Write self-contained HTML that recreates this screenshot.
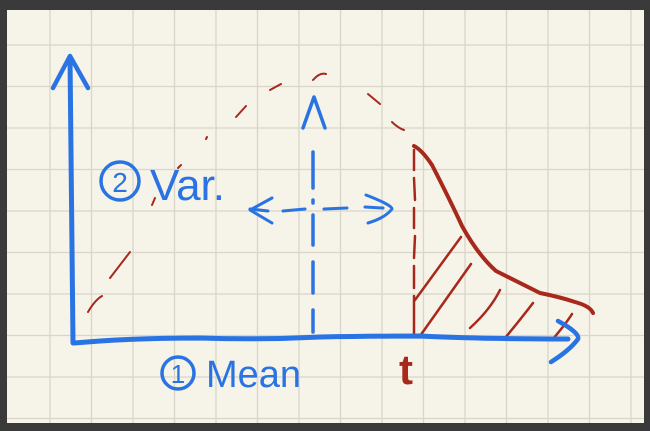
<!DOCTYPE html>
<html><head><meta charset="utf-8"><style>
html,body{margin:0;padding:0;background:#3a3a3a;}
svg{display:block;}
</style></head><body>
<svg width="650" height="431" viewBox="0 0 650 431">
<rect x="0" y="0" width="650" height="431" fill="#3a3a3a"/>
<rect x="7" y="10" width="637" height="413" fill="#f6f3e9"/>
<g id="grid" stroke="#d9d5c9" stroke-width="1.3"></g>
<g fill="none" stroke-linecap="round" stroke-linejoin="round">
 <!-- red dashed bell -->
 <path d="M88,312 Q95,300 102,296 M110,278 L130,252 M152,205 L155,198 M178,168 L181,165 M206,139 L207,137 M236,117 L246,106 M270,90 L281,84 M313,80 Q320,72 326,74 M368,94 L380,104 M392,122 Q398,128 404,130" stroke="#a8281c" stroke-width="2"/>
 <!-- red solid tail -->
 <path d="M414,146 Q422,150 432,165 Q450,200 462,226 Q478,255 496,271 Q520,283 540,293 Q560,297 575,302 Q590,306 593,313" stroke="#a8281c" stroke-width="4"/>
 <!-- red dashed vertical at t -->
 <path d="M414,150 L414,170 M414,178 L415,200 M414,208 L414,228 M415,236 L414,258 M414,266 L414,288 M414,296 L414,336" stroke="#a8281c" stroke-width="2.5"/>
 <!-- hatching -->
 <path d="M415,300 L461,237 M420,336 L471,264 M470,328 Q490,310 500,290 M505,338 Q520,320 533,303 M552,340 Q565,325 572,314" stroke="#a8281c" stroke-width="2.5"/>
 <!-- blue axes -->
 <path d="M73,343 Q72,200 70,57" stroke="#2a73e3" stroke-width="5"/>
 <path d="M53,88 L70,56 L88,88" stroke="#2a73e3" stroke-width="4.5"/>
 <path d="M74,343 Q130,338 200,338 Q260,340 320,337 Q380,336 420,336 Q480,339 568,339" stroke="#2a73e3" stroke-width="5"/>
 <path d="M558,321 Q580,333 578,339 Q570,350 551,362" stroke="#2a73e3" stroke-width="4.5"/>
 <!-- mean dashed vertical -->
 <path d="M313,152 L313,188 M313,200 L313,203 M313,215 L313,245 M313,262 L313,293 M313,310 L313,332" stroke="#2a73e3" stroke-width="3.5"/>
 <path d="M303,128 L314,97 L325,128" stroke="#2a73e3" stroke-width="3.5"/>
 <!-- var arrow -->
 <path d="M250,209 L268,211 M283,211 L305,209 M324,209 L347,208 M365,207 L383,208" stroke="#2a73e3" stroke-width="3"/>
 <path d="M272,198 L250,210 L272,223" stroke="#2a73e3" stroke-width="3"/>
 <path d="M366,195 Q392,205 392,209 Q385,218 368,223" stroke="#2a73e3" stroke-width="3"/>
 <!-- circled numbers -->
 <circle cx="120" cy="181" r="19" stroke="#2a73e3" stroke-width="3.5"/>
 <circle cx="178" cy="373" r="16" stroke="#2a73e3" stroke-width="3.5"/>
</g>
<g font-family="Liberation Sans, sans-serif" fill="#2a73e3">
 <text x="120" y="192" font-size="28" text-anchor="middle">2</text>
 <text x="150" y="200" font-size="44">Var.</text>
 <text x="178" y="383" font-size="26" text-anchor="middle">1</text>
 <text x="206" y="387" font-size="38">Mean</text>
 <text x="399" y="384" font-size="42" fill="#a8281c" font-weight="bold">t</text>
</g>
</svg>
<script>
const g=document.getElementById('grid');
const ns='http://www.w3.org/2000/svg';
for(let x=50;x<644;x+=41.5){const l=document.createElementNS(ns,'line');l.setAttribute('x1',x);l.setAttribute('x2',x);l.setAttribute('y1',10);l.setAttribute('y2',423);


g.appendChild(l);}
for(let y=45;y<423;y+=41.5){const l=document.createElementNS(ns,'line');l.setAttribute('y1',y);l.setAttribute('y2',y);l.setAttribute('x1',7);l.setAttribute('x2',644);


g.appendChild(l);}
</script>
</body></html>
